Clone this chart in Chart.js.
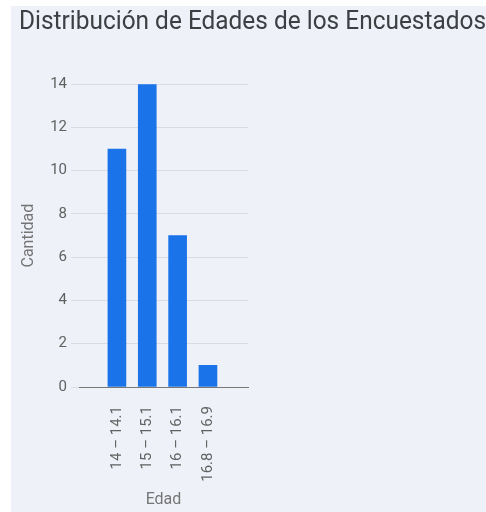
<!DOCTYPE html>
<html>
<head>
<meta charset="utf-8">
<script src="https://cdn.jsdelivr.net/npm/chart.js@4"></script>
<style>
  html, body { margin: 0; padding: 0; background: #fff; }
  #panel { position: absolute; left: 11px; top: 6px; width: 475px; height: 506px; background: #eef2f8; }
  canvas { display: block; }
</style>
</head>
<body>
<div id="panel"><canvas id="edadChart" width="475" height="506"></canvas></div>
<script>
// datos de la encuesta
const categorias = ['14 – 14.1', '15 – 15.1', '16 – 16.1', '16.8 – 16.9'];
const cantidades = [11, 14, 7, 1];
const ticksY = [0, 2, 4, 6, 8, 10, 12, 14];

document.addEventListener("DOMContentLoaded", function () {
    const ctx = document.getElementById('edadChart').getContext('2d');
    const puntos = cantidades.map((v, i) => ({ x: i, y: v }));

    new Chart(ctx, {
        type: 'bar',
        data: {
            datasets: [{
                label: 'Cantidad',
                data: puntos,
                backgroundColor: '#1a73e8',
                borderWidth: 0,
                barThickness: 18
            }]
        },
        options: {
            responsive: false,
            animation: false,
            layout: { padding: { left: 8, right: 0, top: 0, bottom: 0 } },
            plugins: {
                legend: { display: false },
                tooltip: { enabled: false },
                title: {
                    display: true,
                    text: 'Distribución de Edades de los Encuestados',
                    align: 'start',
                    color: '#3c4043',
                    font: { family: 'Roboto', size: 26, weight: 'normal' },
                    padding: { top: 1, bottom: 46 }
                }
            },
            scales: {
                x: {
                    type: 'linear',
                    offset: false,
                    min: -1.25,
                    max: 4.32,
                    afterFit: function (axis) { axis.height = 125; },
                    grid: { display: false },
                    border: { display: true, color: '#777777', width: 1 },
                    ticks: {
                        stepSize: 1,
                        autoSkip: false,
                        minRotation: 90,
                        maxRotation: 90,
                        padding: 11,
                        color: '#616161',
                        font: { family: 'Roboto', size: 15 },
                        callback: function (v) {
                            return (Number.isInteger(v) && v >= 0 && v < categorias.length) ? categorias[v] : '';
                        }
                    },
                    title: {
                        display: true,
                        text: 'Edad',
                        color: '#757575',
                        font: { family: 'Roboto', size: 16 },
                        padding: { top: 2, bottom: 2 }
                    }
                },
                y: {
                    min: 0,
                    max: 14,
                    afterFit: function (axis) { axis.width = 60; },
                    afterBuildTicks: function (axis) { axis.ticks = ticksY.map(v => ({ value: v })); },
                    grid: { color: '#d9dce1', tickLength: 8, drawTicks: true, tickColor: '#d9dce1' },
                    border: { display: false },
                    ticks: {
                        padding: 4,
                        color: '#616161',
                        font: { family: 'Roboto', size: 15 }
                    },
                    title: {
                        display: true,
                        text: 'Cantidad',
                        color: '#757575',
                        font: { family: 'Roboto', size: 16 },
                        padding: { top: 0, bottom: 0 }
                    }
                },
                // espacio vacío a la derecha del gráfico
                derecha: {
                    type: 'linear',
                    position: 'right',
                    afterFit: function (axis) { axis.width = 238; },
                    grid: { display: false },
                    border: { display: false },
                    ticks: { display: false }
                }
            }
        }
    });
});
</script>
</body>
</html>
